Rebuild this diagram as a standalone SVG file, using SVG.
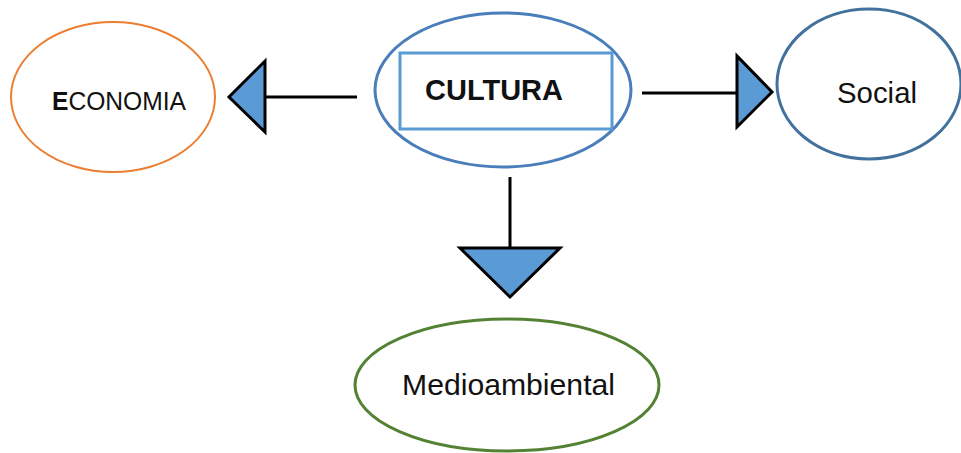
<svg xmlns="http://www.w3.org/2000/svg" width="961" height="453" viewBox="0 0 961 453">
<style>
.lbl{font-family:"Liberation Sans",Arial,sans-serif;fill:#111;}
.conn{stroke:#000;stroke-width:3;fill:none;}
.head{fill:#5B9BD5;stroke:#000;stroke-width:3;stroke-linejoin:miter;}
</style>
<rect width="961" height="453" fill="#fff"/>
<g id="economia">
<ellipse cx="113" cy="97" rx="102" ry="75" fill="#fff" stroke="#ED7D31" stroke-width="2"/>
<text class="lbl" x="52" y="110" font-size="25" textLength="134" lengthAdjust="spacingAndGlyphs"><tspan font-weight="bold">E</tspan>CONOMIA</text>
</g>
<g id="cultura">
<ellipse cx="503" cy="90" rx="128" ry="77" fill="#fff" stroke="#4A7EBB" stroke-width="3"/>
<rect x="400" y="53" width="212" height="76" fill="none" stroke="#5B9BD5" stroke-width="3"/>
<text class="lbl" x="425" y="100" font-size="30" font-weight="bold" textLength="138" lengthAdjust="spacingAndGlyphs">CULTURA</text>
</g>
<g id="social">
<ellipse cx="869" cy="84" rx="92" ry="75" fill="#fff" stroke="#41719C" stroke-width="3"/>
<text class="lbl" x="837" y="103" font-size="29" textLength="80" lengthAdjust="spacingAndGlyphs">Social</text>
</g>
<g id="medioambiental">
<ellipse cx="507" cy="385" rx="152" ry="66" fill="#fff" stroke="#548235" stroke-width="3"/>
<text class="lbl" x="402" y="395" font-size="29" textLength="213" lengthAdjust="spacingAndGlyphs">Medioambiental</text>
</g>
<g id="connectors">
<line class="conn" x1="357" y1="97" x2="265" y2="97"/>
<polygon class="head" points="265,61 265,132 229,97"/>
<line class="conn" x1="642" y1="93" x2="737" y2="93"/>
<polygon class="head" points="737,56 737,127 772,92"/>
<line class="conn" x1="510" y1="177" x2="510" y2="248"/>
<polygon class="head" points="460,248 560,248 510,297"/>
</g>
</svg>
